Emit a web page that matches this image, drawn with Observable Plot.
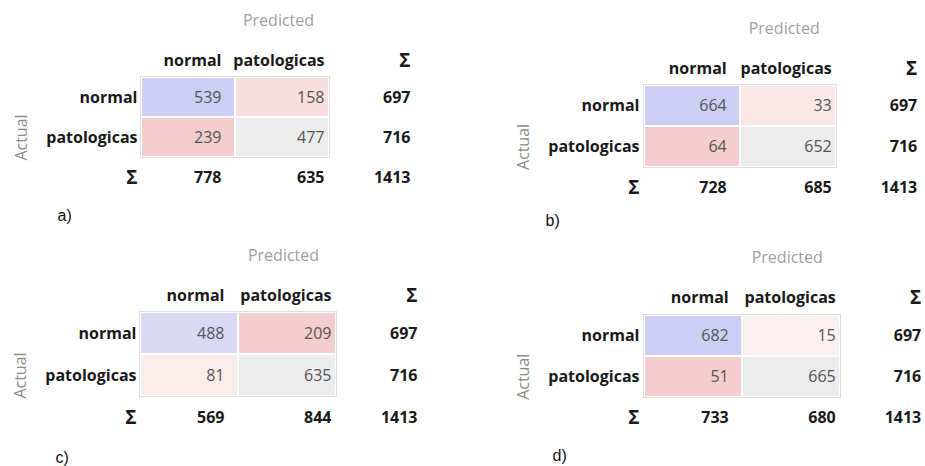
<!DOCTYPE html>
<html><head><meta charset="utf-8">
<script src="https://cdn.jsdelivr.net/npm/d3@7"></script>
<script src="https://cdn.jsdelivr.net/npm/@observablehq/plot@0.6"></script>
<style>
html,body{margin:0;padding:0;background:#fff;overflow:hidden;width:925px;height:466px;}
#root{position:relative;width:925px;height:466px;overflow:hidden;}
.panel{position:absolute;}
.panel svg{max-width:none !important;}
</style></head><body><div id="root"></div>
<script>
// ---- data ----
const classes = ["normal", "patologicas"];
const sumLabel = "Σ";
const panelLabels = ["a)", "b)", "c)", "d)"];
const matrixA = [[539, 158], [239, 477]];
const matrixB = [[664, 33], [64, 652]];
const matrixC = [[488, 209], [81, 635]];
const matrixD = [[682, 15], [51, 665]];
const matrices = [matrixA, matrixB, matrixC, matrixD];

// ---- layout (pixels) ----
const layouts = [
  {left: 0,   top: 0,   ml: 141, mt: 77, w: 94,   h: 40,   lx: -84, ly: 18},
  {left: 460, top: 0,   ml: 183, mt: 85, w: 96.5, h: 41,   lx: -98, ly: 12},
  {left: 0,   top: 233, ml: 140, mt: 79, w: 98,   h: 42,   lx: -85, ly: 19},
  {left: 460, top: 233, ml: 183, mt: 81, w: 98.5, h: 41.5, lx: -91, ly: 16.5}
];
const colPad = [14, 5];   // right padding of numbers/headers inside each class column
const W = 480, H = 233;
const font = "'Open Sans', 'Noto Sans', sans-serif";

function cellColor(m, i, j) {
  if (i === j && i === 1) return "#ececec";
  const maxDiag = Math.max(m[0][0], m[1][1]);
  const maxOff = Math.max(m[0][1], m[1][0]);
  const v = i === j ? m[i][j] / maxDiag : m[i][j] / maxOff;
  return d3.hsl(i === j ? 240 : 0, 160 / 255, (255 - 30 * v) / 255).formatHex();
}

const root = document.getElementById("root");
matrices.forEach((m, k) => {
  const L = layouts[k];
  const cols = [...classes, sumLabel];
  const rows = [...classes, sumLabel];
  const cells = [];
  classes.forEach((a, i) => classes.forEach((p, j) =>
    cells.push({actual: a, pred: p, value: m[i][j], fill: cellColor(m, i, j)})));
  const colSums = classes.map((p, j) => ({actual: sumLabel, pred: p, value: d3.sum(m, r => r[j])}));
  const rowSums = classes.map((a, i) => ({actual: a, pred: sumLabel, value: d3.sum(m[i])}));
  rowSums.push({actual: sumLabel, pred: sumLabel, value: d3.sum(m.flat())});
  const sigDx = 81 - L.w / 2;
  const dark = "#1a1a1a";

  const perColumn = classes.flatMap((c, j) => {
    const dx = L.w / 2 - colPad[j];
    return [
      Plot.text(cells.filter(d => d.pred === c), {x: "pred", y: "actual", text: d => String(d.value), textAnchor: "end", dx, fill: "#555"}),
      Plot.text(colSums.filter(d => d.pred === c), {x: "pred", y: "actual", text: d => String(d.value), textAnchor: "end", dx, fontWeight: "bold", fill: dark}),
      Plot.text([c], {x: d => d, frameAnchor: "top", lineAnchor: "middle", dy: -17, textAnchor: "end", dx, fontWeight: "bold", fill: dark})
    ];
  });

  const chart = Plot.plot({
    width: W, height: H,
    marginLeft: L.ml, marginTop: L.mt,
    marginRight: W - L.ml - 3 * L.w,
    marginBottom: H - L.mt - 3 * L.h,
    x: {type: "band", domain: cols, padding: 0, axis: null},
    y: {type: "band", domain: rows, padding: 0, axis: null},
    color: {type: "identity"},
    style: {fontFamily: font, fontSize: "16px", background: "transparent", color: dark, maxWidth: "none"},
    marks: [
      Plot.cell(cells, {x: "pred", y: "actual", fill: "#dedede", inset: -1}),
      Plot.cell(cells, {x: "pred", y: "actual", fill: "white", inset: 0}),
      Plot.cell(cells, {x: "pred", y: "actual", fill: "fill", inset: 1}),
      ...perColumn,
      Plot.text(rowSums, {x: "pred", y: "actual", text: d => String(d.value), textAnchor: "end", dx: sigDx, fontWeight: "bold", fill: dark}),
      Plot.text([sumLabel], {x: d => d, frameAnchor: "top", lineAnchor: "middle", dy: -17, textAnchor: "end", dx: sigDx, fontWeight: "bold", fontSize: 19, fill: dark}),
      Plot.text(classes, {y: d => d, frameAnchor: "left", dx: -4, textAnchor: "end", fontWeight: "bold", fill: dark}),
      Plot.text([sumLabel], {y: d => d, frameAnchor: "left", dx: -4, textAnchor: "end", fontWeight: "bold", fontSize: 19, fill: dark}),
      Plot.text(["Predicted"], {frameAnchor: "top", lineAnchor: "middle", dy: -57, dx: -4, fill: "#a0a0a0"}),
      Plot.text(["Actual"], {frameAnchor: "left", textAnchor: "middle", rotate: -90, dx: -120, fill: "#8c8c8c"}),
      Plot.text([panelLabels[k]], {frameAnchor: "bottom-left", lineAnchor: "middle", dx: L.lx, dy: L.ly, textAnchor: "start", fill: "#111", fontSize: 16, fontFamily: "'Liberation Sans', sans-serif"})
    ]
  });
  const div = document.createElement("div");
  div.className = "panel";
  div.style.left = L.left + "px";
  div.style.top = L.top + "px";
  div.style.width = W + "px";
  div.appendChild(chart);
  root.appendChild(div);
});
</script>
</body></html>
